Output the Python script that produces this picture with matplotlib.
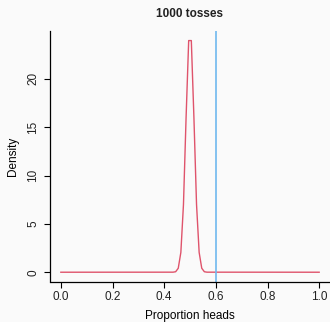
import matplotlib
matplotlib.use("Agg")
import matplotlib.pyplot as plt

# density curve of proportion heads
prop = [0.0, 0.4343, 0.4444, 0.4545, 0.4646, 0.4747, 0.4848, 0.4949,
        0.5051, 0.5152, 0.5253, 0.5354, 0.5455, 0.5556, 0.5657, 1.0]
dens = [0.0, 0.005, 0.05, 0.41, 2.05, 7.0, 15.97, 23.97,
        23.97, 15.97, 7.0, 2.05, 0.41, 0.05, 0.005, 0.0]
observed = 0.6

xticks = [0.0, 0.2, 0.4, 0.6, 0.8, 1.0]
xticklabels = ["0.0", "0.2", "0.4", "0.6", "0.8", "1.0"]
yticks = [0, 5, 10, 15, 20]

plt.rcParams["font.family"] = ["Liberation Sans", "DejaVu Sans"]
plt.rcParams["font.size"] = 8.5
plt.rcParams["text.color"] = "#222222"
plt.rcParams["xtick.labelcolor"] = "#222222"
plt.rcParams["ytick.labelcolor"] = "#222222"

W, H = 330, 322
fig = plt.figure(figsize=(W / 100, H / 100), dpi=100, facecolor="#fafafa")
ax = fig.add_axes([50.5 / W, 1 - 281.5 / H, (329.5 - 50.5) / W, (281.5 - 31) / H])
ax.set_facecolor("#fafafa")

ax.plot(prop, dens, color="#DF536B", lw=1)
ax.axvline(observed, color="#6FB9EE", lw=1.2)

ax.set_xlim(-0.04, 1.04)
ax.set_ylim(-0.96, 24.96)
ax.set_xticks(xticks)
ax.set_xticklabels(xticklabels)
ax.set_yticks(yticks)
ax.set_yticklabels([str(v) for v in yticks], rotation=90, va="center")

for s in ["top", "right"]:
    ax.spines[s].set_visible(False)
for s in ["left", "bottom"]:
    ax.spines[s].set_linewidth(0.9)
ax.tick_params(length=4, width=0.8)
ax.tick_params(axis="x", pad=3)
ax.tick_params(axis="y", pad=4)

ax.set_xlabel("Proportion heads", labelpad=5)
ax.set_ylabel("Density", labelpad=6)
ax.set_title("1000 tosses", fontweight="bold", fontsize=8.5, pad=10)

fig.savefig("out.png", dpi=100, facecolor=fig.get_facecolor())
